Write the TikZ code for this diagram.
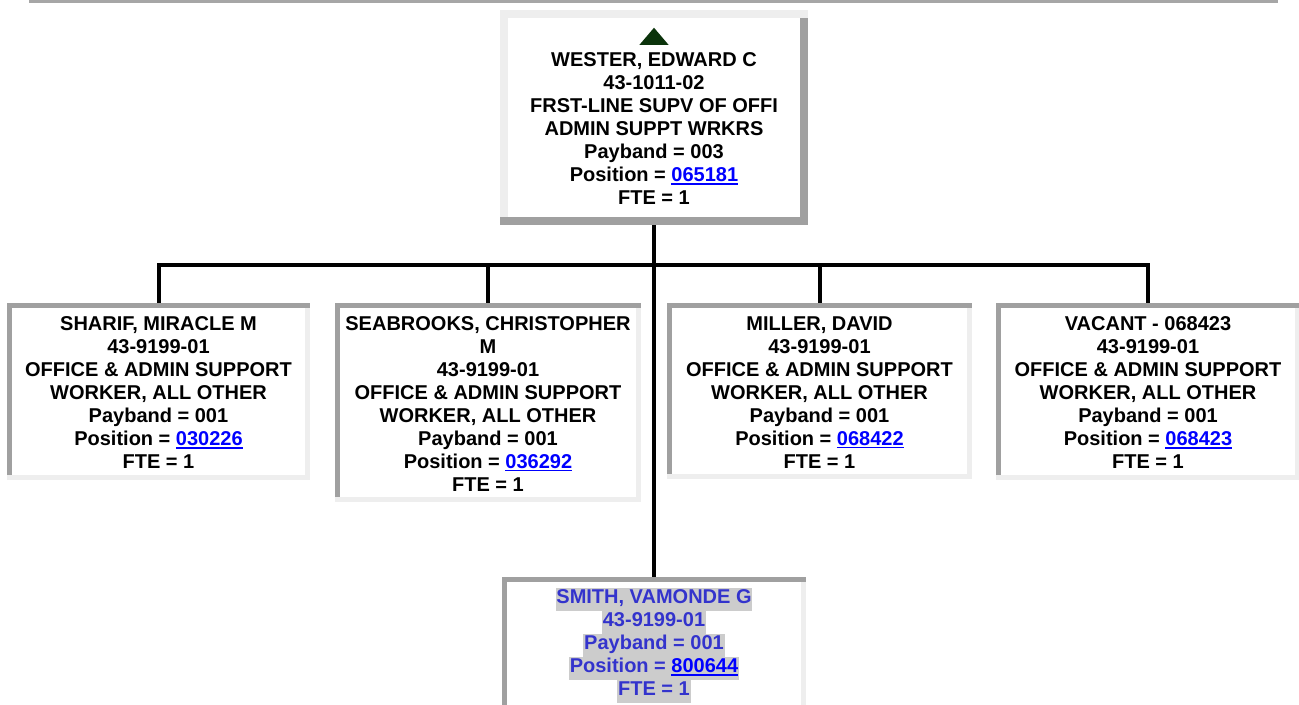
\documentclass[tikz,border=0pt]{standalone}
\usepackage{fontspec}
\setmainfont{Liberation Sans}
\usetikzlibrary{positioning}

\definecolor{bevdark}{HTML}{A0A0A0}
\definecolor{bevlight}{HTML}{EEEEEE}
\definecolor{rulegray}{HTML}{A6A6A6}
\definecolor{linkblue}{HTML}{0000FF}
\definecolor{selblue}{HTML}{3333CC}
\definecolor{hilite}{HTML}{CCCCCC}
\definecolor{upgreen}{HTML}{0B330B}

\newcommand{\poslink}[1]{\textcolor{linkblue}{\setbox0\hbox{#1}\rlap{\rule[-2.4pt]{\wd0}{1.1pt}}\box0}}
\newcommand{\hl}[1]{{\fboxsep=0pt\colorbox{hilite}{\kern0.6pt\strut#1\kern0.6pt}}}
\newcommand{\toprule}[1]{\rule{0pt}{#1}}
% edges of a box: node, width, top/left colour, bottom/right colour
\newcommand{\bevel}[4]{%
  \fill[#3] (#1.north west) rectangle ([yshift=-#2]#1.north east);
  \fill[#3] (#1.north west) rectangle ([xshift=#2]#1.south west);
  \fill[#4] (#1.south west) rectangle ([yshift=#2]#1.south east);
  \fill[#4] ([yshift=-#2]#1.north east) rectangle ([xshift=-#2]#1.south east);
}

\begin{document}
\begin{tikzpicture}[
  x=0.75pt, y=-0.75pt,
  card/.style={rectangle, fill=white, inner sep=0pt, align=center,
               font=\bfseries\fontsize{15}{17.25}\selectfont},
  child/.style={card, minimum width=227.25pt},
  edge/.style={line width=3pt, black}
]
  \useasboundingbox (0,0) rectangle (1299,704);
  \clip (0,0) rectangle (1299,704);

  \draw[rulegray, line width=2.25pt] (29,1.5) -- (1278,1.5);

  \node[card, minimum width=231pt, minimum height=161.25pt] (wester) at (654,117.5)
    {\toprule{26.75pt}WESTER, EDWARD C\\43-1011-02\\FRST-LINE SUPV OF OFFI\\ADMIN SUPPT WRKRS\\Payband = 003\\Position = \poslink{065181}\\FTE = 1};
  \bevel{wester}{6pt}{bevlight}{bevdark}
  \coordinate[below=19.9pt of wester.north] (up);
  \fill[upgreen] ([xshift=-10.9pt,yshift=-6.4pt]up) -- ([xshift=10.9pt,yshift=-6.4pt]up)
    -- ([yshift=6.4pt]up) -- cycle;

  \node[child, minimum height=132.75pt] (sharif) at (158.5,391.5)
    {\toprule{12.1pt}SHARIF, MIRACLE M\\43-9199-01\\OFFICE \& ADMIN SUPPORT\\WORKER, ALL OTHER\\Payband = 001\\Position = \poslink{030226}\\FTE = 1};
  \node[child, minimum width=228.75pt, minimum height=149.25pt] (seabrooks) at (488,402.5)
    {\toprule{12.1pt}SEABROOKS, CHRISTOPHER\\M\\43-9199-01\\OFFICE \& ADMIN SUPPORT\\WORKER, ALL OTHER\\Payband = 001\\Position = \poslink{036292}\\FTE = 1};
  \node[child, minimum width=228.75pt, minimum height=132pt] (miller) at (819.5,391)
    {\toprule{12.1pt}MILLER, DAVID\\43-9199-01\\OFFICE \& ADMIN SUPPORT\\WORKER, ALL OTHER\\Payband = 001\\Position = \poslink{068422}\\FTE = 1};
  \node[child, minimum height=132.75pt] (vacant) at (1148,391.5)
    {\toprule{12.1pt}VACANT - 068423\\43-9199-01\\OFFICE \& ADMIN SUPPORT\\WORKER, ALL OTHER\\Payband = 001\\Position = \poslink{068423}\\FTE = 1};
  \node[child, minimum height=102pt, text=selblue] (smith) at (654,645)
    {\hl{SMITH, VAMONDE G}\\\hl{43-9199-01}\\\hl{Payband = 001}\\\hl{Position = \poslink{800644}}\\\hl{FTE = 1}};

  \bevel{sharif}{3.75pt}{bevdark}{bevlight}
  \bevel{seabrooks}{3.75pt}{bevdark}{bevlight}
  \bevel{miller}{3.75pt}{bevdark}{bevlight}
  \bevel{vacant}{3.75pt}{bevdark}{bevlight}
  \bevel{smith}{3.75pt}{bevdark}{bevlight}

  \coordinate (bus) at (654,265);
  \draw[edge] (wester.south) -- (bus);
  \draw[edge] (bus) -| (sharif.north);
  \draw[edge] (bus) -| (seabrooks.north);
  \draw[edge] (bus) -| (miller.north);
  \draw[edge] (bus) -| (vacant.north);
  \draw[edge] (bus) -- (smith.north);
\end{tikzpicture}
\end{document}
